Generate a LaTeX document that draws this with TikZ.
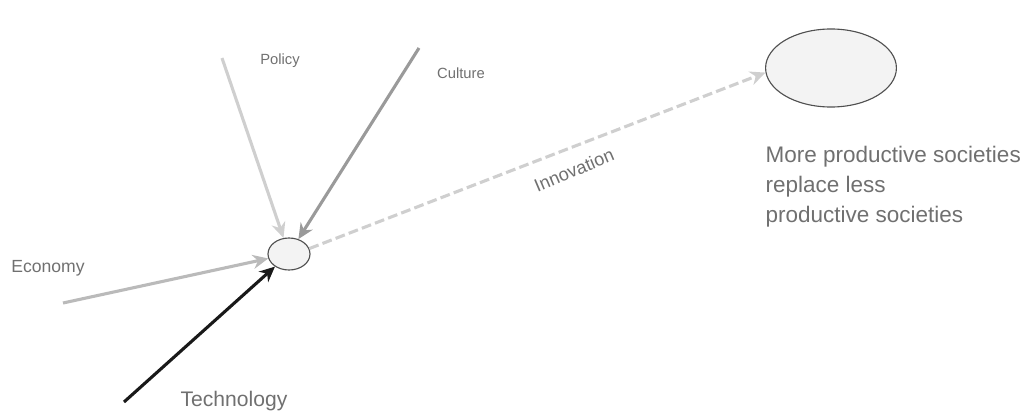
\documentclass[tikz,border=0pt]{standalone}
\usepackage{fontspec}
\setmainfont{Liberation Sans}
\usetikzlibrary{arrows.meta,shapes.geometric}

\definecolor{txtgray}{HTML}{707070}
\definecolor{pale}{HTML}{CFCFCF}
\definecolor{midgray}{HTML}{9A9A9A}
\definecolor{rimgray}{HTML}{505050}
\definecolor{fillgray}{HTML}{F3F3F3}

\begin{document}
\begin{tikzpicture}[x=0.025cm,y=-0.025cm,
  blob/.style={ellipse, draw=rimgray, thick, fill=fillgray, inner sep=0pt},
  force/.style={line width=2.2pt, -{Stealth[length=11pt,width=10pt]}},
  lbl/.style={text=txtgray, inner sep=1pt}]

  % Fix the frame to the reference size
  \useasboundingbox (0,0) rectangle (1024,414);

  % The two ellipses
  \node[blob, minimum width=1.05cm, minimum height=0.8cm] (hub) at (289,254) {};
  \node[blob, minimum width=3.27cm, minimum height=1.95cm] (soc) at (831,68) {};

  % Free ends of the incoming forces
  \coordinate (P) at (222,58);
  \coordinate (C) at (419,48);
  \coordinate (E) at (63,303);
  \coordinate (T) at (124,402);

  % Forces pushing on the hub
  \draw[force, pale] (P) -- (hub);
  \draw[force, midgray] (C) -- (hub);
  \draw[force, pale!90!black] (E) -- (hub);
  \draw[force, black!90] (T) -- (hub);

  % Innovation carries the hub to the big ellipse
  \draw[force, pale, dashed, dash pattern=on 7pt off 3pt] (hub.15) -- (soc.184);

  % Labels
  \node[lbl, font=\fontsize{10.5}{12}\selectfont] (pol) at (280,61) {Policy};
  \node[lbl, font=\fontsize{10.5}{12}\selectfont] (cul) at (461,73) {Culture};
  \node[lbl, font=\fontsize{12.5}{14}\selectfont] (eco) at (48,268) {Economy};
  \node[lbl, font=\fontsize{15}{17}\selectfont] (tec) at (234,401) {Technology};
  \node[lbl, font=\fontsize{13}{15}\selectfont, rotate=23] (inn) at (574,170) {Innovation};
  \node[lbl, font=\fontsize{16}{21}\selectfont, align=left, anchor=north west]
    (res) at (764,145) {More productive societies\\replace less\\productive societies};

\end{tikzpicture}
\end{document}
